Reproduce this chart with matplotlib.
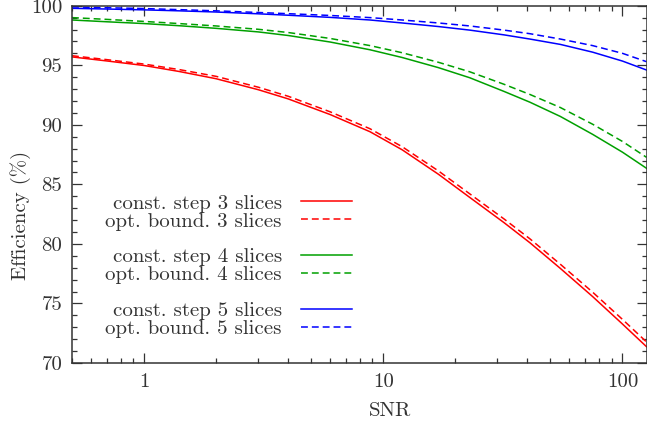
"""
Efficiency vs SNR for const. step and opt. bound. slicing (3, 4, 5 slices).
"""

import numpy as np
import matplotlib
matplotlib.use("Agg")
import matplotlib.pyplot as plt
from matplotlib.ticker import LogLocator, NullFormatter, MultipleLocator

plt.rcParams["font.family"] = ["cmr10", "DejaVu Serif"]
plt.rcParams["mathtext.fontset"] = "cm"
plt.rcParams["axes.formatter.use_mathtext"] = True

# SNR sample points
snr = [0.5, 0.7, 1, 1.4, 2, 3, 4, 6, 8.8, 12, 17, 23, 32, 41, 55, 75, 100, 126]

# Efficiency (%) per curve
const3 = [95.70, 95.36, 94.98, 94.48, 93.87, 92.95, 92.18, 90.86, 89.42, 87.90,
          85.85, 83.90, 81.78, 80.10, 77.94, 75.58, 73.27, 71.37]
opt3 = [95.80, 95.47, 95.10, 94.64, 94.07, 93.16, 92.40, 91.09, 89.67, 88.16,
        86.13, 84.20, 82.09, 80.43, 78.29, 75.95, 73.66, 71.77]
const4 = [98.80, 98.65, 98.50, 98.32, 98.10, 97.80, 97.50, 96.95, 96.30, 95.65,
          94.80, 93.95, 92.80, 91.90, 90.70, 89.20, 87.70, 86.35]
opt4 = [99.00, 98.85, 98.68, 98.50, 98.30, 98.02, 97.75, 97.25, 96.65, 96.05,
        95.25, 94.45, 93.40, 92.55, 91.45, 90.05, 88.60, 87.27]
const5 = [99.78, 99.72, 99.65, 99.57, 99.47, 99.32, 99.20, 99.02, 98.80, 98.55,
          98.25, 97.95, 97.55, 97.20, 96.75, 96.10, 95.35, 94.60]
opt5 = [99.90, 99.83, 99.76, 99.67, 99.57, 99.43, 99.33, 99.18, 99.00, 98.80,
        98.55, 98.30, 97.95, 97.65, 97.20, 96.65, 96.00, 95.30]

labels = ["const. step 3 slices", "opt. bound. 3 slices",
          "const. step 4 slices", "opt. bound. 4 slices",
          "const. step 5 slices", "opt. bound. 5 slices"]
yticks = [70, 75, 80, 85, 90, 95, 100]

RED, GREEN, BLUE = "#ff0000", "#00a000", "#0000ff"
INK = "#333333"
FS = 15

fig = plt.figure(figsize=(6.47, 4.23), dpi=100)
ax = fig.add_axes([72 / 647, 1 - 363 / 423, 574.5 / 647, (363 - 5.7) / 423])

lw = 1.1
dash = (4.5, 2.6)
curves = [
    (const3, RED, None), (opt3, RED, dash),
    (const4, GREEN, None), (opt4, GREEN, dash),
    (const5, BLUE, None), (opt5, BLUE, dash),
]
handles = []
for (vals, col, ds), lab in zip(curves, labels):
    if ds is None:
        h, = ax.plot(snr, vals, color=col, lw=lw, label=lab)
    else:
        h, = ax.plot(snr, vals, color=col, lw=lw, dashes=ds, label=lab)
    handles.append(h)

ax.set_xscale("log")
ax.set_xlim(0.5, 126)
ax.set_ylim(70, 100)

ax.set_xticks([1, 10, 100])
ax.set_xticklabels(["1", "10", "100"])
ax.xaxis.set_minor_locator(LogLocator(base=10, subs=np.arange(2, 10)))
ax.xaxis.set_minor_formatter(NullFormatter())
ax.set_yticks(yticks)
ax.set_yticklabels([str(v) for v in yticks])
ax.yaxis.set_minor_locator(MultipleLocator(1))

ax.tick_params(which="both", direction="in", top=True, right=True,
               colors=INK, labelcolor=INK, labelsize=FS, width=0.9)
ax.tick_params(which="major", length=7.2, pad=7)
ax.tick_params(which="minor", length=3.6)
for sp in ax.spines.values():
    sp.set_color(INK)
    sp.set_linewidth(1.1)

ax.set_xlabel("SNR", fontsize=FS, color=INK)
ax.xaxis.set_label_coords((390 - 72) / 574.5, -0.108)
ax.set_ylabel("Efficiency (%)", fontsize=FS, color=INK)
ax.yaxis.set_label_coords(-0.071, 1 - (215 - 5.7) / 357.3)

# legend: text right-aligned, sample on the right, blank rows between pairs
blank, = ax.plot([], [], color="none")
leg_handles = [handles[0], handles[1], blank, handles[2], handles[3], blank,
               handles[4], handles[5]]
leg_labels = [labels[0], labels[1], " ", labels[2], labels[3], " ",
              labels[4], labels[5]]
leg = ax.legend(leg_handles, leg_labels, loc="upper right",
                bbox_to_anchor=(0.487, 0.473), markerfirst=False, frameon=False,
                fontsize=FS, handlelength=2.45, handletextpad=0.9,
                labelspacing=-0.03, borderpad=0, borderaxespad=0)
for t in leg.get_texts():
    t.set_color(INK)

fig.savefig("out.png", dpi=100)
